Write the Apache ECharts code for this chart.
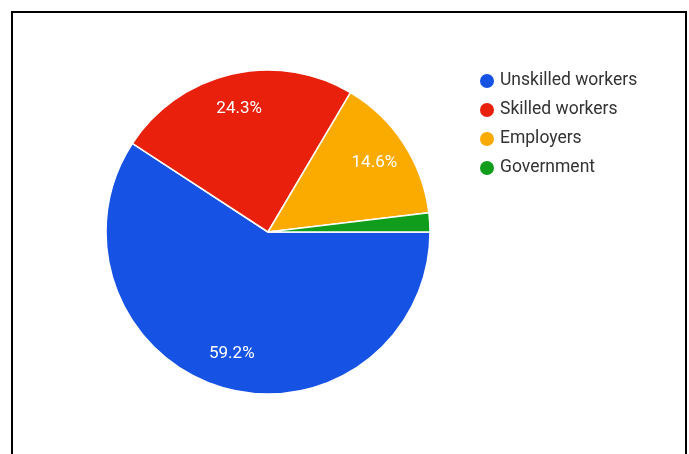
<!DOCTYPE html>
<html>
<head>
<meta charset="utf-8">
<script src="https://cdn.jsdelivr.net/npm/echarts@6/dist/echarts.min.js"></script>
<style>
  html, body { margin: 0; padding: 0; background: #fff; }
  #frame { position: absolute; left: 11px; top: 11px; width: 676px; height: 460px; border: 2.5px solid #000; box-sizing: border-box; }
  #chart { width: 689px; height: 454px; position: absolute; left: 0; top: 0; }
</style>
</head>
<body>
<div id="frame"></div>
<div id="chart"></div>
<script>
// 数据
const categories = ["Unskilled workers", "Skilled workers", "Employers", "Government"];
const shares = [59.2, 24.3, 14.6, 1.9];
const colors = ["#1652e4", "#e8200c", "#fbab00", "#109d1c"];

const pieData = categories.map((name, i) => ({
   name: name,
   value: shares[i],
   itemStyle: { color: colors[i] },
}));

const myChart = echarts.init(document.getElementById("chart"));

const option = {
   backgroundColor: "transparent",
   animation: false,
   // 图例
   legend: {
      orient: "vertical",
      left: 473,
      top: 67,
      icon: "circle",
      itemWidth: 16,
      itemHeight: 16,
      itemGap: 11,
      textStyle: {
         color: "#333",
         fontSize: 17.5,
         fontFamily: "Roboto",
         padding: [0, 0, 0, 0],
      },
      data: categories,
   },
   series: [
      {
         type: "pie",
         center: [268, 232],
         radius: [0, 162],
         startAngle: 0,
         clockwise: true,
         silent: true,
         itemStyle: { borderColor: "#fff", borderWidth: 1.5 },
         label: { show: false },
         labelLine: { show: false },
         data: pieData,
      },
      // 标签层 (透明)
      {
         type: "pie",
         center: [268, 232],
         radius: [86, 162],
         startAngle: 0,
         clockwise: true,
         silent: true,
         legendHoverLink: false,
         itemStyle: { color: "transparent", borderWidth: 0 },
         label: {
            show: true,
            position: "inside",
            color: "#fff",
            fontSize: 17,
            fontFamily: "Roboto",
            formatter: (p) => (p.value >= 5 ? p.value.toFixed(1) + "%" : ""),
         },
         labelLine: { show: false },
         data: categories.map((name, i) => ({ name: name, value: shares[i] })),
      },
   ],
};

myChart.setOption(option);
</script>
</body>
</html>
